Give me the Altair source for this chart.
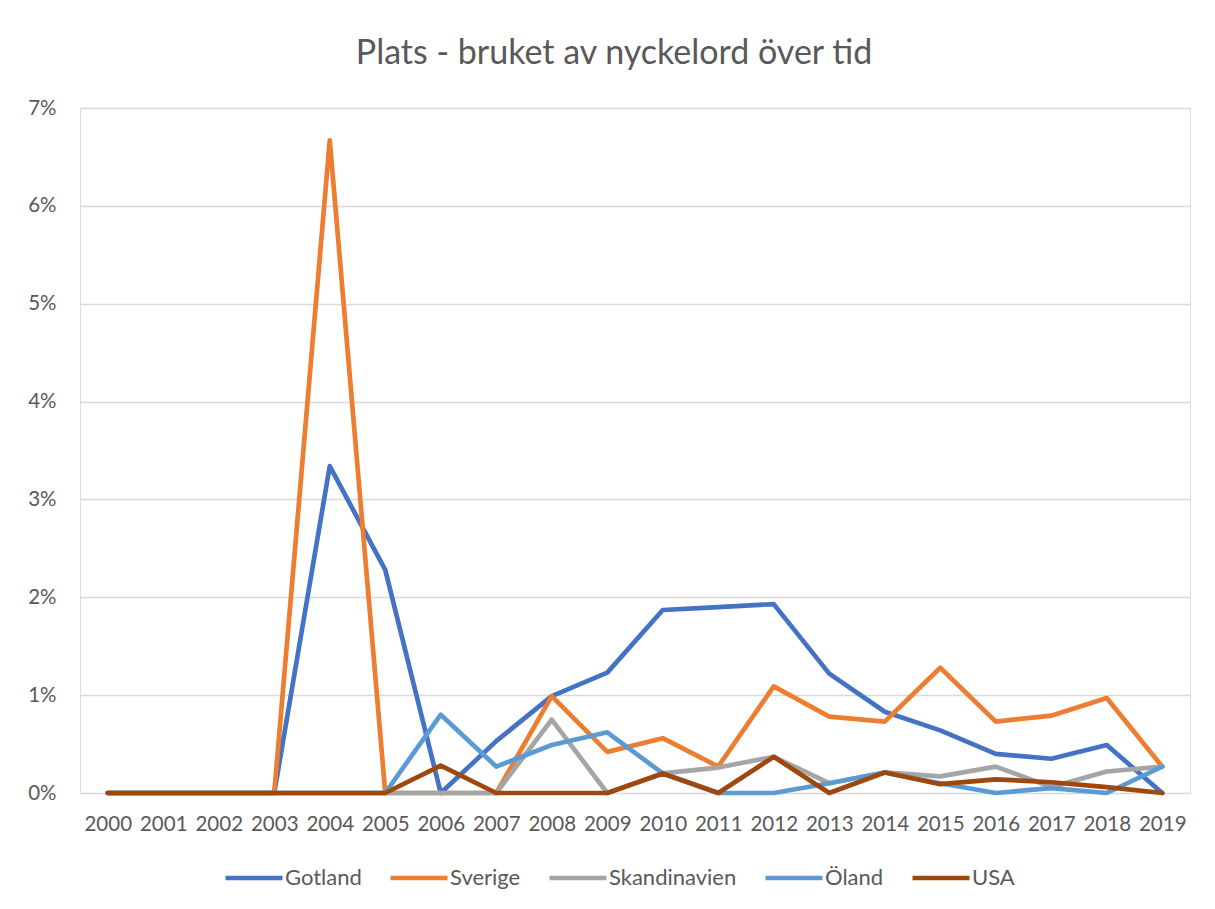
import altair as alt
import pandas as pd

years = [str(y) for y in range(2000, 2020)]
series = ["Gotland", "Sverige", "Skandinavien", "Öland", "USA"]
colors = ["#4472C4", "#ED7D31", "#A5A5A5", "#5B9BD5", "#9E480E"]

gotland = [0, 0, 0, 0, 3.34, 2.28, 0, 0.53, 0.99, 1.23, 1.87, 1.90, 1.93, 1.22, 0.83, 0.64, 0.40, 0.35, 0.49, 0]
sverige = [0, 0, 0, 0, 6.67, 0, 0, 0, 0.99, 0.42, 0.56, 0.27, 1.09, 0.78, 0.73, 1.28, 0.73, 0.79, 0.97, 0.27]
skandinavien = [0, 0, 0, 0, 0, 0, 0, 0, 0.75, 0, 0.20, 0.26, 0.37, 0.10, 0.21, 0.17, 0.27, 0.06, 0.22, 0.27]
oland = [0, 0, 0, 0, 0, 0, 0.80, 0.27, 0.49, 0.62, 0.20, 0, 0, 0.10, 0.21, 0.10, 0, 0.05, 0, 0.27]
usa = [0, 0, 0, 0, 0, 0, 0.28, 0, 0, 0, 0.20, 0, 0.37, 0, 0.21, 0.09, 0.14, 0.11, 0.06, 0]

rows = []
for name, vals in zip(series, [gotland, sverige, skandinavien, oland, usa]):
    for yr, v in zip(years, vals):
        rows.append({"År": yr, "Serie": name, "Andel": v / 100, "ord": series.index(name)})
df = pd.DataFrame(rows)

FONT = "Lato"
GRAY = "#595959"

chart = (
    alt.Chart(df)
    .mark_line(strokeWidth=4.7, strokeCap="round", strokeJoin="round")
    .encode(
        x=alt.X(
            "År:N",
            sort=years,
            scale=alt.Scale(type="point", padding=0.5),
            axis=alt.Axis(
                title=None, labelAngle=0, ticks=False, domain=False, grid=False,
                labelFontSize=20.5, labelColor=GRAY, labelFont=FONT, labelPadding=21,
            ),
        ),
        y=alt.Y(
            "Andel:Q",
            scale=alt.Scale(domain=[0, 0.07], nice=False),
            axis=alt.Axis(
                title=None, format=".0%", values=[0, 0.01, 0.02, 0.03, 0.04, 0.05, 0.06, 0.07],
                ticks=False, domain=False, gridColor="#D9D9D9", gridWidth=1.5,
                labelFontSize=20.5, labelColor=GRAY, labelFont=FONT, labelPadding=24,
            ),
        ),
        color=alt.Color(
            "Serie:N",
            scale=alt.Scale(domain=series, range=colors),
            legend=alt.Legend(
                title=None, orient="none", direction="horizontal",
                legendX=143, legendY=739,
                symbolType="stroke", symbolSize=3250, symbolStrokeWidth=4.7,
                labelFontSize=22, labelColor=GRAY, labelFont=FONT,
                columnPadding=19, labelOffset=0,
            ),
        ),
        order=alt.Order("ord:Q"),
        detail="Serie:N",
    )
    .properties(
        width=1110,
        height=685,
        autosize=alt.AutoSizeParams(type="none"),
        padding={"left": 72, "top": 100, "right": 17, "bottom": 108},
        title=alt.TitleParams(
            "Plats - bruket av nyckelord över tid",
            fontSize=34, font=FONT, color=GRAY, fontWeight="normal",
            anchor="middle", dx=-21, offset=27,
        ),
    )
    .configure_view(stroke=None)
    .configure(background="white")
)

chart.save("out.html", embed_options={"renderer": "svg", "actions": False})
